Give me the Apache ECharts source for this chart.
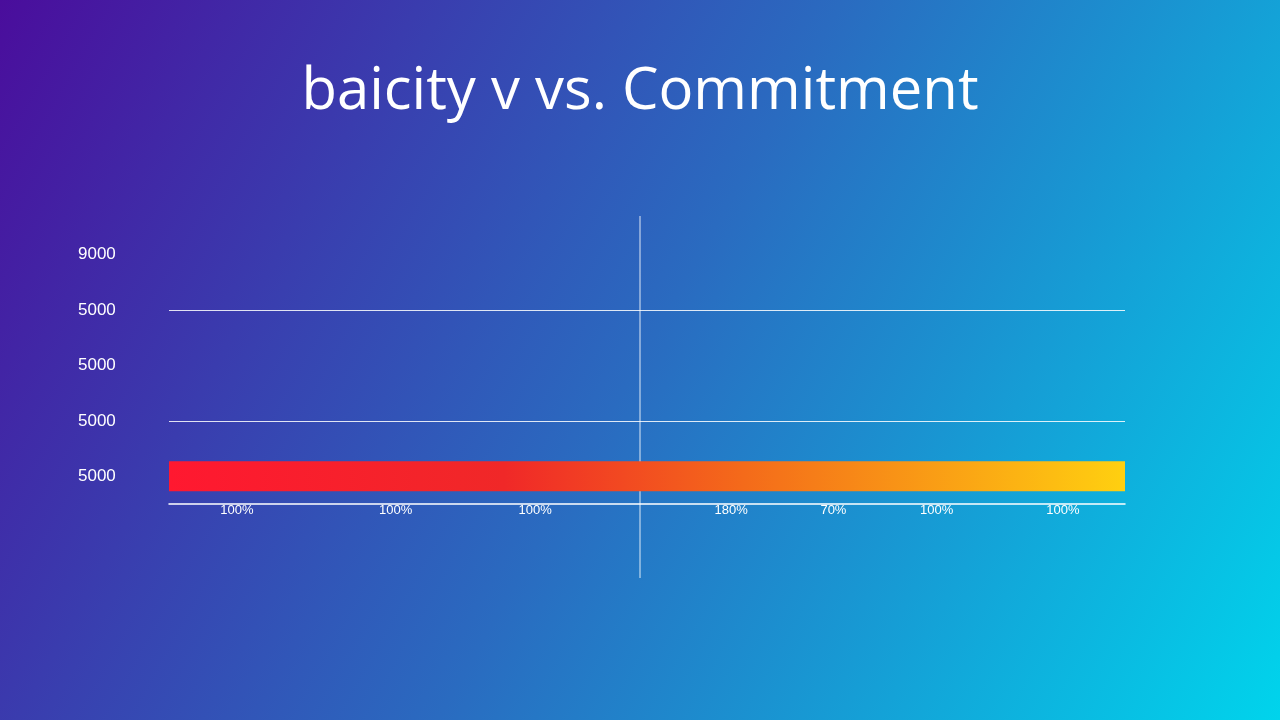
<!DOCTYPE html><html><head><meta charset="utf-8">
<script src="https://cdn.jsdelivr.net/npm/echarts@6/dist/echarts.min.js"></script>
<style>html,body{margin:0;padding:0}#c{width:1280px;height:720px}</style></head><body><div id="c"></div>
<script>
const yCategories = ['5000','5000','5000','5000','9000'];
const barValues = [100, null, null, null, null];
const xTickPositions = [7.1, 23.7, 38.3, 58.8, 69.5, 80.3, 93.5];
const xTickLabels = ['100%','100%','100%','180%','70%','100%','100%'];
const gridLineCats = [1, 3];

const chart = echarts.init(document.getElementById('c'));
chart.setOption({
  backgroundColor: new echarts.graphic.LinearGradient(0,0,1,1,[{offset:0,color:'#4a0d9c'},{offset:0.5,color:'#2a6bc0'},{offset:1,color:'#00d4ec'}]),
  title:{text:'baicity v vs. Commitment',left:'center',top:58,textStyle:{color:'#fff',fontSize:58,fontWeight:500,fontFamily:'Open Sans'}},
  grid:{left:169,right:155,top:227,bottom:216},
  xAxis:{type:'value',min:0,max:100,splitLine:{show:false},
    axisLine:{show:true,onZero:false,lineStyle:{color:'#fff',width:1.5}},axisTick:{show:false},
    axisLabel:{customValues:xTickPositions,color:'#fff',fontSize:13,margin:0,
      formatter:v=>{const i=xTickPositions.indexOf(v);return i>=0?xTickLabels[i]:'';}}},
  yAxis:{type:'category',data:yCategories,axisLine:{show:false},axisTick:{show:false},
    axisLabel:{color:'#fff',fontSize:17,margin:91,align:'left'}},
  series:[{type:'bar',data:barValues,barWidth:30,silent:true,
    itemStyle:{color:new echarts.graphic.LinearGradient(0,0,1,0,[{offset:0,color:'#ff1830'},{offset:0.35,color:'#f02828'},{offset:0.6,color:'#f46a1a'},{offset:1,color:'#ffd010'}])},
    markLine:{silent:true,symbol:'none',label:{show:false},lineStyle:{color:'#fff',width:1,type:'solid',opacity:0.85},
      data:gridLineCats.map(i=>({yAxis:i}))}}],
  graphic:[{type:'line',shape:{x1:640,y1:216,x2:640,y2:578},style:{stroke:'#fff',lineWidth:1,opacity:0.85}}]
});
</script></body></html>
